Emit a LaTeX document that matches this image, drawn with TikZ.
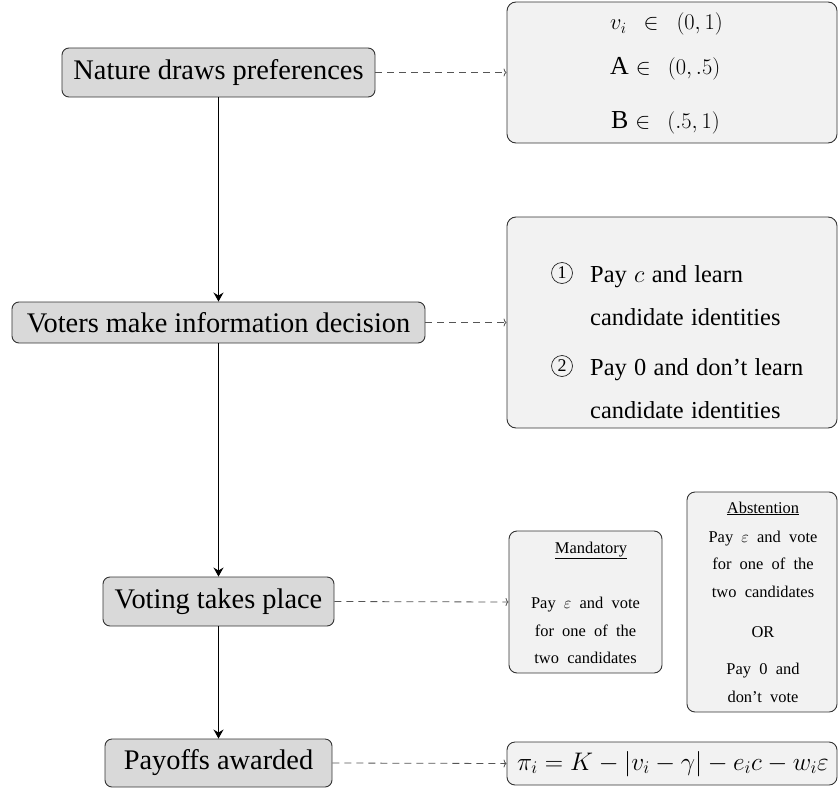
\RequirePackage{fix-cm}
\documentclass[tikz,border=0pt]{standalone}
\usepackage{fontspec}
\setmainfont{Liberation Serif}
\usetikzlibrary{arrows.meta}
\definecolor{stagefill}{HTML}{D9D9D9}
\definecolor{boxfill}{HTML}{F2F2F2}
\definecolor{edgegray}{HTML}{333333}
\definecolor{dashgray}{HTML}{555555}
\newcommand\bigspacing{\fontsize{24.5}{30}\selectfont\spaceskip=0.3em plus 0.1em\relax}
\newcommand\smallspacing{\fontsize{16.5}{20}\selectfont\spaceskip=0.5em plus 0.1em\relax}
\newcommand\boxmath{\fontsize{22.5}{27}\selectfont}
\begin{document}
\begin{tikzpicture}[x=1bp,y=-1bp,
  stage/.style={draw=edgegray, fill=stagefill, rounded corners=7bp, line width=0.9bp, inner sep=0pt,
    font=\fontsize{28.5}{34}\selectfont},
  infobox/.style={draw=edgegray, fill=boxfill, rounded corners=9bp, line width=0.9bp, inner sep=0pt},
  bigtxt/.style={inner sep=0pt, anchor=base west, font=\bigspacing},
  mathtxt/.style={inner sep=0pt, anchor=base west, font=\fontsize{26}{30}\selectfont},
  smalltxt/.style={inner sep=0pt, anchor=base, font=\smallspacing},
  circnum/.style={circle, draw=black!85, line width=0.7bp, inner sep=0pt, minimum size=21bp,
    font=\fontsize{18}{20}\selectfont},
  flow/.style={-{Stealth[length=9bp,width=10bp,inset=3bp]}, line width=1.6bp, black},
  side/.style={-{To[length=3bp,width=8bp]}, dash pattern=on 7bp off 5bp, dashgray, line width=0.8bp},
]
\useasboundingbox (0,0) rectangle (838,788);

% stage nodes
\node[stage, minimum width=313bp, minimum height=49bp] (n1) at (218.5,72.5) {Nature draws preferences};
\node[stage, minimum width=413bp, minimum height=41bp] (n2) at (218.5,322.5) {Voters make information decision};
\node[stage, minimum width=231bp, minimum height=49bp] (n3) at (218.5,601.5) {Voting takes place};
\node[stage, minimum width=227bp, minimum height=48bp] (n4) at (218.5,763) {Payoffs awarded};

% info boxes
\node[infobox, minimum width=330bp, minimum height=141bp] (b1) at (672,72.5) {};
\node[infobox, minimum width=330bp, minimum height=211bp] (b2) at (672,322.5) {};
\node[infobox, rounded corners=8bp, minimum width=153bp, minimum height=142bp] (mand) at (585.5,602) {};
\node[infobox, rounded corners=8bp, minimum width=150bp, minimum height=220bp] (abst) at (762,602) {};
\node[infobox, rounded corners=8bp, minimum width=330bp, minimum height=43bp] (pay) at (672,763.5) {};

% box 1 text
\node[mathtxt] (b1a) at (610,30) {\boxmath$v_i$\hspace{17bp}$\in$\hspace{18bp}$(0,1)$};
\node[mathtxt] (b1b) at (610,75) {A\hspace{7bp}{\boxmath$\in$\hspace{17bp}$(0,.5)$}};
\node[mathtxt] (b1c) at (611,128) {B\hspace{7bp}{\boxmath$\in$\hspace{17bp}$(.5,1)$}};

% box 2 text
\node[circnum] (c1) at (562,273) {1};
\node[circnum] (c2) at (562,366) {2};
\node[bigtxt] (b2a) at (590,282) {Pay $c$ and learn};
\node[bigtxt] (b2b) at (590,325) {candidate identities};
\node[bigtxt] (b2c) at (590,375) {Pay 0 and don’t learn};
\node[bigtxt] (b2d) at (590,418) {candidate identities};

% mandatory text
\node[smalltxt] (m1) at (591,553) {\underline{Mandatory}};
\node[smalltxt] (m2) at (585.5,608) {Pay $\varepsilon$ and vote};
\node[smalltxt] (m3) at (585.5,636) {for one of the};
\node[smalltxt] (m4) at (585.5,663) {two candidates};

% abstention text
\node[smalltxt] (a1) at (763,513) {\underline{Abstention}};
\node[smalltxt] (a2) at (763,542) {Pay $\varepsilon$ and vote};
\node[smalltxt] (a3) at (763,569) {for one of the};
\node[smalltxt] (a4) at (763,597) {two candidates};
\node[smalltxt] (a5) at (763,637) {OR};
\node[smalltxt] (a6) at (763,674) {Pay 0 and};
\node[smalltxt] (a7) at (763,702) {don’t vote};

% payoff formula
\node[inner sep=0pt, anchor=base, font=\fontsize{25.5}{30}\selectfont] (pf) at (673,770) {$\pi_i = K - |v_i - \gamma| - e_i c - w_i\varepsilon$};

% connectors
\draw[flow] (n1.south) -- (n2.north);
\draw[flow] (n2.south) -- (n3.north);
\draw[flow] (n3.south) -- (n4.north);
\draw[side] (n1.east) -- (b1.west);
\draw[side] (n2.east) -- (b2.west);
\draw[side] (n3.east) -- (mand.west);
\draw[side] (n4.east) -- (pay.west);
\end{tikzpicture}
\end{document}
